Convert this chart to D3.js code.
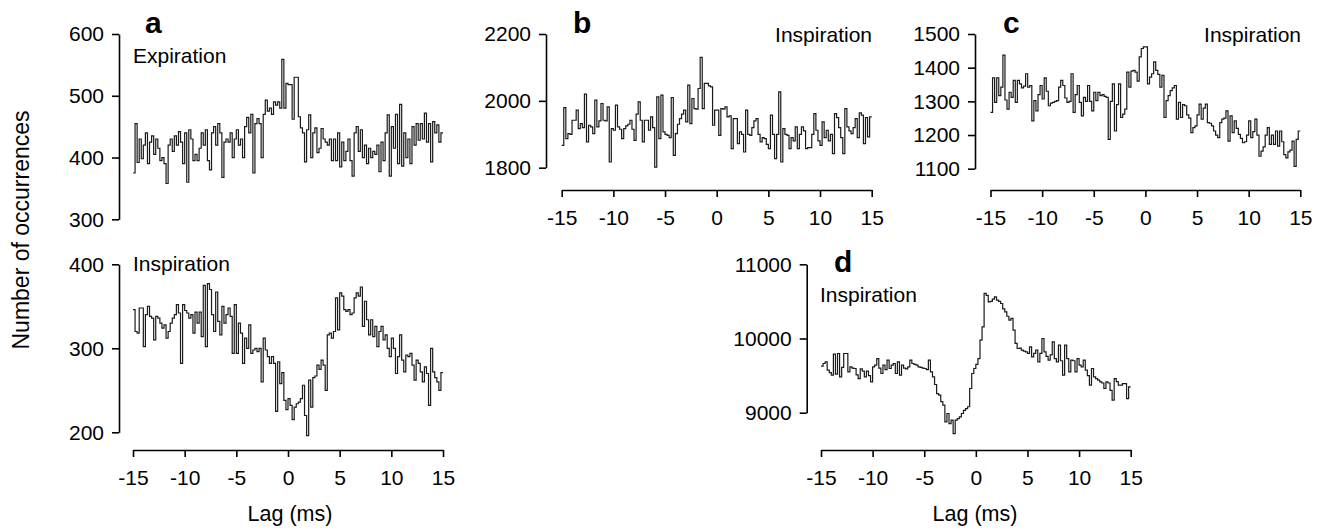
<!DOCTYPE html>
<html>
<head>
<meta charset="utf-8">
<script src="https://cdn.jsdelivr.net/npm/d3@7"></script>
<style>
  body { margin: 0; background: #fff; }
  svg { font-family: "Liberation Sans", Arial, sans-serif; }
</style>
</head>
<body>
<svg id="chart" width="1320" height="528"></svg>
<script>
// Lag bins: 150 bins of 0.2 ms from -15 to 15
const lagTicks = [-15, -10, -5, 0, 5, 10, 15];
const binWidth = 0.2;

// Panel a, expiration
const expirationA = [
  375, 455, 392, 430, 398, 420, 440, 390, 425, 435,
  405, 430, 415, 395, 400, 390, 358, 420, 430, 410,
  435, 420, 442, 425, 390, 440, 360, 445, 430, 395,
  405, 395, 415, 440, 420, 445, 395, 380, 440, 450,
  420, 455, 440, 368, 425, 430, 425, 440, 400, 430,
  445, 420, 430, 400, 450, 465, 440, 470, 375, 455,
  463, 455, 400, 470, 493, 475, 480, 470, 490, 485,
  490, 480, 559, 480, 520, 518, 518, 462, 530, 530,
  466, 448, 440, 393, 445, 469, 400, 440, 448, 408,
  415, 447, 430, 425, 420, 430, 395, 430, 395, 440,
  385, 425, 395, 410, 430, 395, 370, 440, 450, 410,
  445, 400, 420, 390, 415, 400, 410, 405, 420, 377,
  425, 395, 440, 469, 370, 450, 415, 470, 390, 486,
  386, 440, 400, 430, 390, 450, 420, 455, 428, 455,
  430, 472, 425, 455, 393, 458, 440, 453, 425, 440
];

// Panel a, inspiration
const inspirationA = [
  346, 320, 318, 348, 348, 302, 340, 350, 338, 336,
  310, 338, 336, 330, 324, 328, 312, 320, 330, 336,
  340, 352, 342, 282, 352, 345, 342, 336, 340, 318,
  343, 330, 343, 314, 375, 302, 377, 370, 340, 320,
  367, 332, 316, 350, 330, 340, 348, 338, 294, 352,
  294, 330, 318, 282, 312, 300, 328, 294, 298, 300,
  296, 300, 260, 312, 298, 290, 282, 290, 282, 225,
  284, 258, 271, 238, 227, 240, 232, 215, 230, 234,
  236, 240, 256, 220, 196, 262, 230, 265, 267, 280,
  275, 286, 280, 250, 316, 318, 312, 320, 360, 322,
  366, 362, 346, 344, 346, 340, 342, 360, 366, 362,
  373, 326, 356, 334, 316, 334, 314, 326, 302, 320,
  326, 310, 316, 300, 290, 312, 300, 270, 290, 316,
  286, 272, 292, 290, 294, 280, 262, 286, 282, 272,
  260, 278, 270, 232, 300, 272, 265, 260, 250, 271
];

// Panel b
const inspirationB = [
  1867, 1980, 1887, 1902, 1900, 1942, 1942, 1972, 1917, 1932,
  1920, 2020, 1877, 1927, 1922, 1902, 2002, 1922, 1940, 1992,
  1942, 1940, 1982, 1817, 1917, 1912, 1987, 1922, 1915, 1887,
  1917, 1925, 1930, 1942, 1915, 1882, 1960, 1997, 1942, 1877,
  1942, 1942, 1912, 1952, 1920, 1802, 2012, 1887, 2017, 1907,
  1900, 1897, 1890, 2010, 1837, 1902, 1930, 1947, 1960, 1972,
  1937, 2047, 1932, 2007, 1977, 1975, 2037, 2130, 1977, 2052,
  2052, 2045, 2042, 1927, 1972, 1972, 1897, 1977, 1975, 1982,
  1952, 1955, 1857, 1947, 1947, 1872, 1907, 1900, 1847, 1972,
  1900, 1897, 1920, 1940, 1947, 1900, 1877, 1890, 1887, 1870,
  1857, 1957, 1900, 1827, 1900, 2027, 1817, 1917, 1900, 1897,
  1857, 1890, 1880, 1922, 1857, 1900, 1922, 1910, 1857, 1860,
  1860, 1900, 1962, 1912, 1880, 1867, 1937, 1890, 1912, 1880,
  1900, 1842, 1962, 1950, 1920, 1890, 1842, 1977, 1922, 1910,
  1902, 1920, 1947, 1890, 1964, 1957, 1872, 1950, 1892, 1952
];

// Panel c
const inspirationC = [
  1267, 1370, 1297, 1370, 1317, 1342, 1437, 1304, 1277, 1327,
  1312, 1362, 1297, 1362, 1352, 1340, 1345, 1382, 1342, 1347,
  1242, 1302, 1272, 1320, 1347, 1307, 1370, 1330, 1287, 1295,
  1297, 1300, 1302, 1342, 1362, 1347, 1310, 1297, 1300, 1382,
  1267, 1320, 1347, 1297, 1257, 1312, 1300, 1347, 1300, 1272,
  1327, 1302, 1327, 1317, 1320, 1315, 1312, 1187, 1300, 1352,
  1212, 1290, 1352, 1252, 1262, 1277, 1387, 1342, 1390, 1392,
  1387, 1360, 1432, 1457, 1462, 1462, 1352, 1372, 1382, 1417,
  1392, 1380, 1342, 1377, 1252, 1302, 1317, 1332, 1340, 1347,
  1247, 1297, 1252, 1290, 1287, 1260, 1250, 1207, 1222, 1227,
  1260, 1292, 1247, 1280, 1292, 1237, 1235, 1227, 1212, 1200,
  1192, 1237, 1247, 1250, 1272, 1182, 1257, 1207, 1242, 1220,
  1202, 1190, 1177, 1180, 1200, 1242, 1192, 1210, 1247, 1200,
  1137, 1152, 1165, 1200, 1222, 1172, 1200, 1172, 1212, 1167,
  1212, 1180, 1142, 1132, 1150, 1155, 1182, 1107, 1187, 1212
];

// Panel d
const inspirationD = [
  9627, 9663, 9685, 9573, 9540, 9506, 9790, 9520, 9798, 9483,
  9610, 9798, 9798, 9550, 9618, 9600, 9596, 9510, 9460, 9590,
  9560, 9483, 9560, 9500, 9415, 9618, 9640, 9730, 9600, 9528,
  9640, 9580, 9708, 9596, 9640, 9663, 9528, 9685, 9506, 9640,
  9600, 9590, 9618, 9708, 9663, 9650, 9640, 9618, 9610, 9600,
  9596, 9580, 9708, 9550, 9483, 9380, 9258, 9236, 9150, 9101,
  8877, 8989, 8854, 8899, 8719, 8899, 8920, 8944, 8989, 9030,
  9056, 9080, 9326, 9528, 9596, 9650, 9730, 9978, 10157, 10607,
  10580, 10494, 10500, 10530, 10562, 10517, 10500, 10472, 10400, 10360,
  10300, 10247, 10270, 10112, 9933, 9865, 9870, 9843, 9830, 9820,
  9800, 9888, 9753, 9800, 9843, 9685, 9800, 10000, 9820, 9760,
  9708, 9780, 9955, 9730, 9685, 9910, 9700, 9506, 9910, 9730,
  9550, 9708, 9700, 9550, 9730, 9640, 9618, 9708, 9573, 9500,
  9371, 9596, 9483, 9460, 9438, 9415, 9400, 9326, 9415, 9400,
  9300, 9169, 9460, 9420, 9371, 9371, 9393, 9393, 9191, 9348
];

const ticksATop = [300, 400, 500, 600];
const ticksABot = [200, 300, 400];
const ticksB = [1800, 2000, 2200];
const ticksC = [1100, 1200, 1300, 1400, 1500];
const ticksD = [9000, 10000, 11000];

const svg = d3.select("#chart");
const fontSize = 21;
const plain = d => String(d);   // keep the ASCII hyphen on negative ticks

// panel geometry
const panels = [
  {values: expirationA, ticks: ticksATop, left: 133, right: 443, top: 34, bottom: 219.3, axisX: 119, xAxisY: null},
  {values: inspirationA, ticks: ticksABot, left: 133, right: 443, top: 264.3, bottom: 432.3, axisX: 119, xAxisY: 450},
  {values: inspirationB, ticks: ticksB, left: 561.7, right: 871.7, top: 34, bottom: 167.7, axisX: 546, xAxisY: 190},
  {values: inspirationC, ticks: ticksC, left: 990.5, right: 1300.3, top: 34, bottom: 168.7, axisX: 975, xAxisY: 190},
  {values: inspirationD, ticks: ticksD, left: 821, right: 1130.7, top: 264.3, bottom: 412.7, axisX: 806.7, xAxisY: 450}
];

panels.forEach(p => {
  const x = d3.scaleLinear().domain([-15, 15]).range([p.left, p.right]);
  const y = d3.scaleLinear().domain(d3.extent(p.ticks)).range([p.bottom, p.top]);

  // y axis
  const ya = svg.append("g")
      .attr("transform", `translate(${p.axisX},0)`)
      .call(d3.axisLeft(y).tickValues(p.ticks).tickSize(7).tickSizeOuter(0).tickPadding(8).tickFormat(plain));
  ya.selectAll("text").style("font-size", fontSize + "px").attr("fill", "#000");

  // x axis
  if (p.xAxisY !== null) {
    const xa = svg.append("g")
        .attr("transform", `translate(0,${p.xAxisY})`)
        .call(d3.axisBottom(x).tickValues(lagTicks).tickSize(7).tickSizeOuter(0).tickPadding(13).tickFormat(plain));
    xa.selectAll("text").style("font-size", fontSize + "px").attr("fill", "#000");
  }

  // step histogram
  const pts = p.values.map((v, i) => [-15 + i * binWidth, v]);
  pts.push([15, p.values[p.values.length - 1]]);
  svg.append("path")
      .datum(pts)
      .attr("fill", "none")
      .attr("stroke", "#1a1a1a")
      .attr("stroke-width", 1.2)
      .attr("d", d3.line().x(d => x(d[0])).y(d => y(d[1])).curve(d3.curveStepAfter));
});

svg.selectAll(".domain, .tick line").attr("stroke", "#000").attr("stroke-width", 1.6);

// labels
const labels = [
  {t: "a", x: 145, y: 33, bold: true},
  {t: "b", x: 573, y: 33, bold: true},
  {t: "c", x: 1003, y: 33, bold: true},
  {t: "d", x: 834, y: 272, bold: true},
  {t: "Expiration", x: 133, y: 63},
  {t: "Inspiration", x: 133, y: 271},
  {t: "Inspiration", x: 872, y: 42, anchor: "end"},
  {t: "Inspiration", x: 1301, y: 42, anchor: "end"},
  {t: "Inspiration", x: 820, y: 302}
];
labels.forEach(l => {
  svg.append("text")
      .attr("x", l.x).attr("y", l.y)
      .attr("text-anchor", l.anchor || "start")
      .style("font-size", l.bold ? "30px" : fontSize + "px")
      .style("font-weight", l.bold ? "bold" : "normal")
      .text(l.t);
});

svg.append("text")
    .attr("x", 290).attr("y", 521)
    .attr("text-anchor", "middle")
    .style("font-size", "21.5px")
    .text("Lag (ms)");
svg.append("text")
    .attr("x", 975).attr("y", 521)
    .attr("text-anchor", "middle")
    .style("font-size", "21.5px")
    .text("Lag (ms)");
svg.append("text")
    .attr("transform", "translate(29,230) rotate(-90)")
    .attr("text-anchor", "middle")
    .style("font-size", "23px")
    .text("Number of occurrences");
</script>
</body>
</html>
